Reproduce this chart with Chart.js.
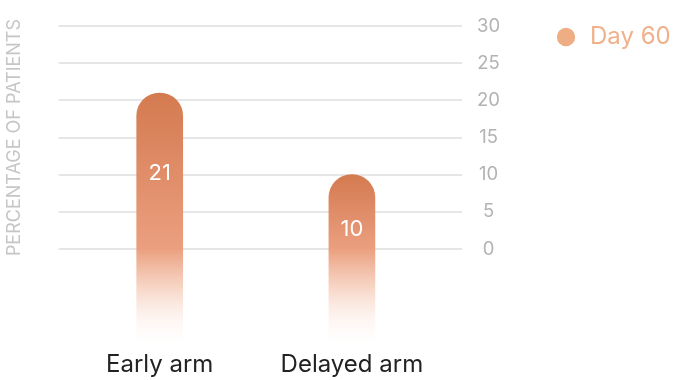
<!DOCTYPE html>
<html>
<head>
<meta charset="utf-8">
<title>Day 60</title>
<script src="https://cdn.jsdelivr.net/npm/chart.js@4.4.1/dist/chart.umd.min.js"></script>
<style>
  html, body { margin: 0; padding: 0; background: #fff; }
  #wrap { position: relative; width: 676px; height: 380px; }
</style>
</head>
<body>
<div id="wrap"><canvas id="chart"></canvas></div>
<script>
/* data */
var categories = ['Early arm', 'Delayed arm'];
var day60      = [21, 10];
var yMin = 0, yMax = 30, yStep = 5;

/* look */
var FONT     = 'Inter, "Noto Sans", sans-serif';
var barTop   = '#d47a50';
var barMid   = '#eb9f7f';
var dotColor = '#efad84';
var barFloor = -13.5;   // bars fade out below the zero line

function barFill( ctx ) {
    var chart = ctx.chart;
    var y = chart.scales.y;
    if ( ! y || ctx.raw == null ) return dotColor;
    var top    = y.getPixelForValue( ctx.raw );
    var bottom = y.getPixelForValue( barFloor );
    var zero   = y.getPixelForValue( 0 );
    var f = ( zero - top ) / ( bottom - top );
    var g = chart.ctx.createLinearGradient( 0, top, 0, bottom );
    g.addColorStop( 0, barTop );
    g.addColorStop( f, barMid );
    g.addColorStop( f + ( 1 - f ) * 0.4, 'rgba(240,176,146,0.5)' );
    g.addColorStop( 1, 'rgba(255,255,255,0)' );
    return g;
}

/* white numbers inside the bars */
var valueLabels = {
    id: 'valueLabels',
    afterDatasetsDraw: function ( chart ) {
        var meta = chart.getDatasetMeta( 0 );
        var c = chart.ctx;
        c.save();
        c.fillStyle = '#ffffff';
        c.font = '400 22px ' + FONT;
        c.textAlign = 'center';
        c.textBaseline = 'middle';
        meta.data.forEach( function ( bar, i ) {
            var ly = bar.y + ( bar.base - bar.y ) * 0.315;
            c.fillText( String( day60[i] ), bar.x, ly );
        } );
        c.restore();
    }
};

new Chart( document.getElementById( 'chart' ), {
    type: 'bar',
    data: {
        labels: categories,
        datasets: [ {
            label: 'Day 60',
            data: day60,
            base: barFloor,
            clip: false,
            backgroundColor: barFill,
            barThickness: 46,
            borderSkipped: false,
            borderRadius: { topLeft: 23, topRight: 23, bottomLeft: 0, bottomRight: 0 },
            yAxisID: 'y',
        } ],
    },
    options: {
        responsive: true,
        maintainAspectRatio: false,
        animation: false,
        devicePixelRatio: 1,
        layout: { padding: { top: 14, right: 6, bottom: 3, left: 3 } },
        plugins: {
            legend: {
                position: 'right',
                align: 'start',
                maxWidth: 117,
                title: { display: true, text: ' ', font: { size: 1, lineHeight: 1 }, padding: { top: 9, bottom: 0 } },
                labels: {
                    usePointStyle: true,
                    pointStyle: 'circle',
                    boxWidth: 24,
                    boxHeight: 13,
                    padding: 1,
                    color: '#f0b08a',
                    font: { family: FONT, size: 24 },
                    generateLabels: function ( chart ) {
                        return chart.data.datasets.map( function ( ds, i ) {
                            return {
                                text: ds.label,
                                fillStyle: dotColor,
                                strokeStyle: dotColor,
                                lineWidth: 0,
                                pointStyle: 'circle',
                                fontColor: '#f0b08a',
                                datasetIndex: i,
                            };
                        } );
                    },
                },
            },
            tooltip: { enabled: false },
        },
        scales: {
            x: {
                // invisible tick marks push the labels below the faded bar ends
                grid: { drawOnChartArea: false, tickLength: 101, tickColor: 'rgba(0,0,0,0)' },
                border: { display: false },
                ticks: { color: '#222222', font: { family: FONT, size: 24 }, padding: 0 },
                afterFit: function ( axis ) { axis.height = 128; },
            },
            y: {
                position: 'right',
                min: yMin,
                max: yMax,
                grid: { color: '#e6e6e6', lineWidth: 2, tickLength: 14 },
                border: { display: false },
                ticks: {
                    stepSize: yStep,
                    color: '#b3b3b3',
                    font: { family: FONT, size: 18.5 },
                    padding: 15,
                    crossAlign: 'center',
                },
                afterFit: function ( axis ) { axis.width = 105; },
            },
            yTitle: {
                position: 'left',
                min: yMin,
                max: yMax,
                grid: { drawOnChartArea: false, color: '#e6e6e6', lineWidth: 2, tickLength: 5 },
                border: { display: false },
                ticks: { display: false, stepSize: yStep },
                title: {
                    display: true,
                    text: 'PERCENTAGE OF PATIENTS',
                    color: '#c6c6c6',
                    font: { family: FONT, size: 18 },
                    padding: { top: 1, bottom: 33 },
                },
            },
        },
    },
    plugins: [ valueLabels ],
} );
</script>
</body>
</html>
